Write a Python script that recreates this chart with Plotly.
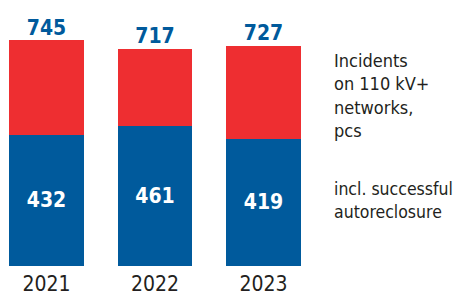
import plotly.graph_objects as go

years = ["2021", "2022", "2023"]
total_incidents = [745, 717, 727]
successful_autoreclosure = [432, 461, 419]
remaining = [t - s for t, s in zip(total_incidents, successful_autoreclosure)]

legend_top = "Incidents<br>on 110 kV+<br>networks,<br>pcs"
legend_bottom = "incl. successful<br>autoreclosure"

BLUE = "#005A9C"
RED = "#EE2E31"
DARK = "#231F20"
NUM_FONT = "DejaVu Sans Condensed, DejaVu Sans, sans-serif"
TXT_FONT = "DejaVu Sans Condensed, DejaVu Sans, sans-serif"

fig = go.Figure()
fig.add_bar(
    x=years, y=successful_autoreclosure, marker_color=BLUE, marker_line_width=0,
    width=0.69, text=successful_autoreclosure, textposition="inside",
    insidetextanchor="middle", textangle=0,
    textfont=dict(color="white", size=21, family=NUM_FONT, weight="bold"),
    hoverinfo="skip",
)
fig.add_bar(
    x=years, y=remaining, marker_color=RED, marker_line_width=0,
    width=0.69, hoverinfo="skip",
)
fig.add_scatter(
    x=years, y=total_incidents, mode="text", text=total_incidents,
    textposition="top center",
    textfont=dict(color=BLUE, size=21, family=NUM_FONT, weight="bold"),
    hoverinfo="skip",
)

fig.update_layout(
    width=464, height=298,
    barmode="stack",
    showlegend=False,
    margin=dict(l=0, r=154, t=0, b=32),
    paper_bgcolor="white", plot_bgcolor="white",
    xaxis=dict(type="category", range=[-0.4286, 2.4286], showgrid=False,
               zeroline=False, showline=False, ticks="", ticklabelstandoff=3,
               tickfont=dict(size=21, family=NUM_FONT, color=DARK)),
    yaxis=dict(range=[0, 877], visible=False),
    annotations=[
        dict(x=1.071, y=0.64, xref="paper", yref="paper", xanchor="left",
             yanchor="middle", align="left", showarrow=False, text=legend_top,
             font=dict(size=18, family=TXT_FONT, color=DARK)),
        dict(x=1.071, y=0.248, xref="paper", yref="paper", xanchor="left",
             yanchor="middle", align="left", showarrow=False, text=legend_bottom,
             font=dict(size=17.5, family=TXT_FONT, color=DARK)),
    ],
)

fig.write_html("out.html", config={"displayModeBar": False, "staticPlot": True},
               post_script="document.body.style.margin='0';")
